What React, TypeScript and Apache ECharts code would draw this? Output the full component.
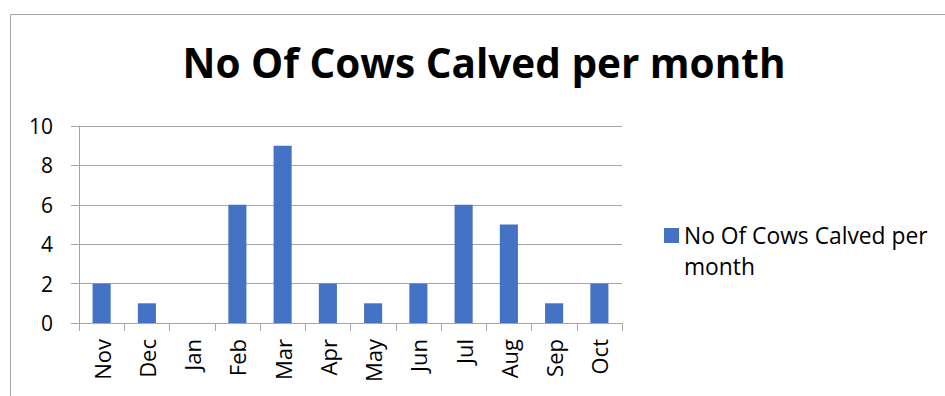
import React, { useEffect, useRef } from "react";
import * as echarts from "echarts";

const categories = ["Nov", "Dec", "Jan", "Feb", "Mar", "Apr", "May", "Jun", "Jul", "Aug", "Sep", "Oct"];
const calved = [2, 1, 0, 6, 9, 2, 1, 2, 6, 5, 1, 2];
const seriesName = "No Of Cows Calved per month";
const titleText = "No Of Cows Calved per month";
const legendFirst = "No Of Cows Calved per";
const legendSecond = "month";

const FONT = "Open Sans";
const LH = 31;

export default function App() {
  const ref = useRef<HTMLDivElement>(null);
  useEffect(() => {
    if (!ref.current) return;
    const chart = echarts.init(ref.current, null, { renderer: "svg" });
    chart.setOption({
      animation: false,
      backgroundColor: "#ffffff",
      title: {
        text: titleText,
        left: 484,
        top: 42,
        textAlign: "center",
        padding: 0,
        textStyle: { fontFamily: FONT, fontWeight: "bold", fontSize: 40.5, color: "#000000" },
      },
      graphic: [
        {
          type: "rect",
          shape: { x: 10.5, y: 14.5, width: 1000, height: 500 },
          style: { fill: "none", stroke: "#a6a6a6", lineWidth: 1 },
          silent: true,
        },
      ],
      legend: {
        left: 664,
        top: 193,
        padding: 0,
        orient: "vertical",
        icon: "rect",
        itemWidth: 15,
        itemHeight: 15,
        formatter: () => `{s| }\n{a|${legendFirst}}\n{a|${legendSecond}}`,
        textStyle: {
          fontFamily: FONT,
          fontSize: 22.8,
          color: "#000000",
          rich: {
            s: { fontFamily: FONT, fontSize: 22.8, lineHeight: LH },
            a: { fontFamily: FONT, fontSize: 22.8, lineHeight: LH, color: "#000000" },
          },
        },
        data: [seriesName],
      },
      grid: { left: 79, right: 323, top: 126, bottom: 73, containLabel: false },
      xAxis: {
        type: "category",
        data: categories,
        axisLine: { show: true, lineStyle: { color: "#a6a6a6", width: 1 } },
        axisTick: { show: true, alignWithLabel: false, length: 8, lineStyle: { color: "#a6a6a6" } },
        axisLabel: {
          rotate: 90,
          margin: 16,
          fontFamily: FONT,
          fontSize: 22,
          color: "#000000",
          interval: 0,
        },
      },
      yAxis: {
        type: "value",
        min: 0,
        max: 10,
        interval: 2,
        axisLine: { show: true, lineStyle: { color: "#a6a6a6", width: 1 } },
        axisTick: { show: true, length: 8, lineStyle: { color: "#a6a6a6" } },
        splitLine: { show: true, lineStyle: { color: "#a6a6a6", width: 1 } },
        axisLabel: { fontFamily: FONT, fontSize: 21, color: "#000000", margin: 26 },
      },
      series: [
        {
          name: seriesName,
          type: "bar",
          data: calved,
          barWidth: "40%",
          itemStyle: { color: "#4472C4" },
        },
      ],
    });
    return () => chart.dispose();
  }, []);
  return (
    <div
      ref={ref}
      style={{ position: "fixed", left: 0, top: 0, width: 945, height: 396 }}
    />
  );
}
